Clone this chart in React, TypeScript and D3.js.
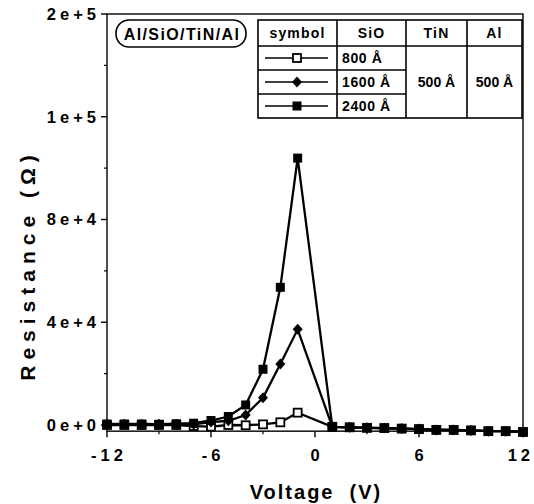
import * as d3 from "d3";

// voltage sweep (V); no point at 0 V
const voltage = [-12, -11, -10, -9, -8, -7, -6, -5, -4, -3, -2, -1, 1, 2, 3, 4, 5, 6, 7, 8, 9, 10, 11, 12];

// resistance (ohm) per SiO thickness
const sio800 = [0, 0, 0, 0, 0, -400, -650, 0, -100, 250, 1050, 4800, -700, -900, -1100, -1200, -1400, -1600, -1900, -1900, -2100, -2400, -2400, -2700];
const sio1600 = [300, 300, 300, 300, 300, 300, 1150, 1650, 3900, 10600, 23750, 37250, -700, -900, -1100, -1200, -1400, -1600, -1900, -1900, -2100, -2400, -2400, -2700];
const sio2400 = [400, 400, 400, 300, 500, 700, 1750, 3300, 7800, 21700, 53600, 103900, -700, -900, -1100, -1200, -1400, -1600, -1900, -1900, -2100, -2400, -2400, -2700];

const yTicks = [0, 40000, 80000, 120000, 160000];
const yMinorTicks = [20000, 60000, 100000, 140000];
const xTicks = [-12, -6, 0, 6, 12];
const xMinorTicks = [-9, -3, 3, 9];

const tableHeaders = ["symbol", "SiO", "TiN", "Al"];
const sioLabels = ["800 Å", "1600 Å", "2400 Å"];
const tinLabel = "500 Å";
const alLabel = "500 Å";
const stackLabel = "Al/SiO/TiN/Al";

const series = [
  { name: "800", values: sio800, shape: "open" },
  { name: "1600", values: sio1600, shape: "diamond" },
  { name: "2400", values: sio2400, shape: "square" },
];

const font = "'Liberation Sans', Arial, Helvetica, sans-serif";

function Marker({ x, y, shape }: { x: number; y: number; shape: string }) {
  if (shape === "open") {
    return <rect x={x - 4} y={y - 4} width={8} height={8} fill="#fff" stroke="#000" strokeWidth={1.8} />;
  }
  if (shape === "diamond") {
    return <path d={`M${x},${y - 5.5}L${x + 5},${y}L${x},${y + 5.5}L${x - 5},${y}Z`} fill="#000" />;
  }
  return <rect x={x - 4.5} y={y - 4.5} width={9} height={9} fill="#000" />;
}

export default function App() {
  const left = 107, right = 523, top = 14;
  const x = d3.scaleLinear().domain([-12, 12]).range([left, right]);
  const y = d3.scaleLinear().domain([-2400, 160000]).range([425 + 2400 * (411 / 160000), top]);
  const bottom = y(-2400);
  const fmt = d3.format(".0e");

  const line = d3.line<number>()
    .x((_, i) => x(voltage[i]))
    .y((d) => y(d));

  // legend table geometry
  const cols = [258, 337, 406, 467, 522];
  const rows = [20, 46, 70, 94, 118];

  return (
    <svg width={534} height={504} style={{ position: "absolute", left: 0, top: 0, background: "#fff" }}
      fontFamily={font} fontWeight="bold">
      {/* frame */}
      <rect x={left} y={top} width={right - left} height={bottom - top} fill="none" stroke="#000" strokeWidth={1.4} />

      {/* y axis ticks */}
      {yTicks.map((t) => (
        <g key={`y${t}`}>
          <line x1={left - 6} x2={left} y1={y(t)} y2={y(t)} stroke="#000" strokeWidth={1.4} />
          <text x={100} y={y(t)} dy="0.36em" textAnchor="end" fontSize={16.5} letterSpacing={4}>{fmt(t)}</text>
        </g>
      ))}
      {yMinorTicks.map((t) => (
        <line key={`ym${t}`} x1={left - 3} x2={left} y1={y(t)} y2={y(t)} stroke="#000" strokeWidth={1.2} />
      ))}

      {/* x axis ticks */}
      {xTicks.map((t, i) => (
        <g key={`x${t}`}>
          <line x1={x(t)} x2={x(t)} y1={bottom} y2={bottom + 6} stroke="#000" strokeWidth={1.4} />
          <text x={i === xTicks.length - 1 ? 534 : x(t) + 2} y={461}
            textAnchor={i === xTicks.length - 1 ? "end" : "middle"} fontSize={16.5} letterSpacing={4}>{t}</text>
        </g>
      ))}
      {xMinorTicks.map((t) => (
        <line key={`xm${t}`} x1={x(t)} x2={x(t)} y1={bottom} y2={bottom + 3} stroke="#000" strokeWidth={1.2} />
      ))}

      {/* axis titles */}
      <text x={316} y={499} textAnchor="middle" fontSize={20} letterSpacing={2} style={{ whiteSpace: "pre" }}>Voltage  (V)</text>
      <text transform="translate(35,265) rotate(-90)" textAnchor="middle" fontSize={21} letterSpacing={6}>Resistance (Ω)</text>

      {/* series */}
      {series.map((s) => (
        <g key={s.name}>
          <path d={line(s.values) ?? ""} fill="none" stroke="#000" strokeWidth={2.3} />
          {s.values.map((v, i) => (
            <Marker key={i} x={x(voltage[i])} y={y(v)} shape={s.shape} />
          ))}
        </g>
      ))}

      {/* stack label */}
      <rect x={116} y={20} width={130} height={27} rx={13} fill="#fff" stroke="#000" strokeWidth={1.6} />
      <text x={182} y={34} dy="0.36em" textAnchor="middle" fontSize={16} letterSpacing={1.4}>{stackLabel}</text>

      {/* legend table */}
      <g stroke="#000" strokeWidth={1.6} fill="none">
        <rect x={cols[0]} y={rows[0]} width={cols[4] - cols[0]} height={rows[4] - rows[0]} />
        <line x1={cols[0]} x2={cols[4]} y1={rows[1]} y2={rows[1]} />
        <line x1={cols[0]} x2={cols[2]} y1={rows[2]} y2={rows[2]} />
        <line x1={cols[0]} x2={cols[2]} y1={rows[3]} y2={rows[3]} />
        {cols.slice(1, 4).map((c) => (
          <line key={c} x1={c} x2={c} y1={rows[0]} y2={rows[4]} />
        ))}
      </g>
      {tableHeaders.map((h, i) => (
        <text key={h} x={(cols[i] + cols[i + 1]) / 2} y={(rows[0] + rows[1]) / 2} dy="0.36em"
          textAnchor="middle" fontSize={14} letterSpacing={1.2}>{h}</text>
      ))}
      {series.map((s, i) => {
        const cy = (rows[i + 1] + rows[i + 2]) / 2;
        return (
          <g key={`leg${s.name}`}>
            <line x1={265} x2={328} y1={cy} y2={cy} stroke="#000" strokeWidth={1.5} />
            <Marker x={297} y={cy} shape={s.shape} />
            <text x={342} y={cy} dy="0.36em" fontSize={14} letterSpacing={0.6}>{sioLabels[i]}</text>
          </g>
        );
      })}
      <text x={(cols[2] + cols[3]) / 2} y={rows[2] + 12} dy="0.36em" textAnchor="middle" fontSize={14}>{tinLabel}</text>
      <text x={(cols[3] + cols[4]) / 2} y={rows[2] + 12} dy="0.36em" textAnchor="middle" fontSize={14}>{alLabel}</text>
    </svg>
  );
}
